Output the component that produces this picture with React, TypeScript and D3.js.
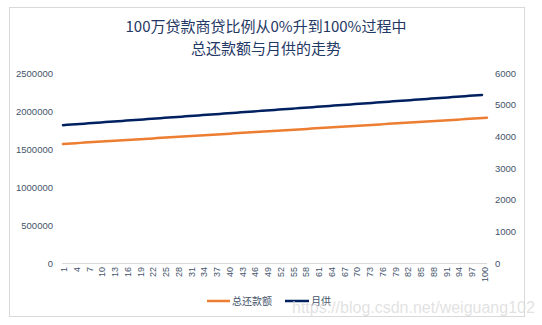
import React from "react";
import * as d3 from "d3";

const categories: number[] = d3.range(1, 101);

const totalRepayment: number[] = [
  1566700, 1570200, 1573700, 1577200, 1580600, 1584100, 1587600, 1591100, 1594500, 1598000,
  1601500, 1605000, 1608400, 1611900, 1615400, 1618800, 1622300, 1625800, 1629300, 1632700,
  1636200, 1639700, 1643200, 1646600, 1650100, 1653600, 1657100, 1660500, 1664000, 1667500,
  1670900, 1674400, 1677900, 1681400, 1684800, 1688300, 1691800, 1695300, 1698700, 1702200,
  1705700, 1709200, 1712600, 1716100, 1719600, 1723000, 1726500, 1730000, 1733500, 1736900,
  1740400, 1743900, 1747400, 1750800, 1754300, 1757800, 1761300, 1764700, 1768200, 1771700,
  1775200, 1778600, 1782100, 1785600, 1789000, 1792500, 1796000, 1799500, 1802900, 1806400,
  1809900, 1813400, 1816800, 1820300, 1823800, 1827300, 1830700, 1834200, 1837700, 1841100,
  1844600, 1848100, 1851600, 1855000, 1858500, 1862000, 1865500, 1868900, 1872400, 1875900,
  1879400, 1882800, 1886300, 1889800, 1893300, 1896700, 1900200, 1903700, 1907100, 1910600,
];

const monthlyPayment: number[] = [
  4352, 4362, 4371, 4381, 4391, 4400, 4410, 4420, 4429, 4439,
  4449, 4458, 4468, 4477, 4487, 4497, 4506, 4516, 4526, 4535,
  4545, 4555, 4564, 4574, 4584, 4593, 4603, 4613, 4622, 4632,
  4642, 4651, 4661, 4670, 4680, 4690, 4699, 4709, 4719, 4728,
  4738, 4748, 4757, 4767, 4777, 4786, 4796, 4806, 4815, 4825,
  4834, 4844, 4854, 4863, 4873, 4883, 4892, 4902, 4912, 4921,
  4931, 4941, 4950, 4960, 4970, 4979, 4989, 4999, 5008, 5018,
  5027, 5037, 5047, 5056, 5066, 5076, 5085, 5095, 5105, 5114,
  5124, 5134, 5143, 5153, 5163, 5172, 5182, 5191, 5201, 5211,
  5220, 5230, 5240, 5249, 5259, 5269, 5278, 5288, 5298, 5307,
];

const leftTicks: number[] = [0, 500000, 1000000, 1500000, 2000000, 2500000];
const rightTicks: number[] = [0, 1000, 2000, 3000, 4000, 5000, 6000];
const xTickLabels: number[] = categories.filter((c) => (c - 1) % 3 === 0);

const titleLines: string[] = ["100万贷款商贷比例从0%升到100%过程中", "总还款额与月供的走势"];
const seriesNames: string[] = ["总还款额", "月供"];

const W = 542;
const H = 325;
const FONT = "'Liberation Sans', Arial, 'Noto Sans CJK SC', sans-serif";
const CJK = "'Noto Sans CJK SC', 'Liberation Sans', sans-serif";
const TEXT = "#44546a";
const ORANGE = "#ed7d31";
const NAVY = "#002060";

export default function App() {
  const plotLeft = 62;
  const plotRight = 487;
  const plotTop = 73;
  const plotBottom = 263;

  const yL = d3.scaleLinear().domain([0, 2500000]).range([plotBottom, plotTop]);
  const yR = d3.scaleLinear().domain([0, 6000]).range([plotBottom, plotTop]);
  const x1 = d3.scalePoint<number>().domain(categories).range([plotLeft + 1, plotRight]);
  const x2 = d3.scalePoint<number>().domain(categories).range([plotLeft + 1, plotRight - 5]);

  const line1 = d3
    .line<number>()
    .x((_, i) => x1(categories[i]) as number)
    .y((d) => yL(d));
  const line2 = d3
    .line<number>()
    .x((_, i) => x2(categories[i]) as number)
    .y((d) => yR(d));

  const band = (plotRight - plotLeft) / categories.length;
  const xLabel = (c: number) => plotLeft + band * (categories.indexOf(c) + 0.5);

  return (
    <svg
      width={W}
      height={H}
      style={{ position: "absolute", left: 0, top: 0, background: "#fff" }}
    >
      <rect x={0} y={0} width={W} height={H} fill="#fff" />
      <rect x={9.5} y={7.5} width={515} height={309} fill="#fff" stroke="#d9d9d9" strokeWidth={1} />

      {titleLines.map((t, i) => (
        <text
          key={t}
          x={266}
          y={32 + i * 22}
          textAnchor="middle"
          fontFamily={CJK}
          fontSize={15}
          fill="#1f3864"
        >
          {t}
        </text>
      ))}

      {leftTicks.map((v) => (
        <text
          key={"l" + v}
          x={53}
          y={yL(v) + 3.5}
          textAnchor="end"
          fontFamily={FONT}
          fontSize={9.5}
          fill={TEXT}
        >
          {v}
        </text>
      ))}
      {rightTicks.map((v) => (
        <text
          key={"r" + v}
          x={495}
          y={yR(v) + 3.5}
          textAnchor="start"
          fontFamily={FONT}
          fontSize={9.5}
          fill={TEXT}
        >
          {v}
        </text>
      ))}

      <line x1={plotLeft} x2={plotRight} y1={plotBottom + 0.5} y2={plotBottom + 0.5} stroke="#d9d9d9" strokeWidth={1} />

      {xTickLabels.map((c) => (
        <text
          key={"x" + c}
          transform={`translate(${xLabel(c) + 3},${plotBottom + 4}) rotate(-90)`}
          textAnchor="end"
          fontFamily={FONT}
          fontSize={9}
          fill={TEXT}
        >
          {c}
        </text>
      ))}

      <path d={line1(totalRepayment) || ""} fill="none" stroke={ORANGE} strokeWidth={2.5} strokeLinecap="round" />
      <path d={line2(monthlyPayment) || ""} fill="none" stroke={NAVY} strokeWidth={2.5} strokeLinecap="round" />

      <line x1={207} x2={230} y1={301} y2={301} stroke={ORANGE} strokeWidth={2.5} />
      <text x={232} y={305} fontFamily={CJK} fontSize={10} fill={TEXT}>
        {seriesNames[0]}
      </text>
      <line x1={285} x2={309} y1={301} y2={301} stroke={NAVY} strokeWidth={2.5} />
      <text x={311} y={305} fontFamily={CJK} fontSize={10} fill={TEXT}>
        {seriesNames[1]}
      </text>

      <text
        x={292}
        y={313}
        fontFamily={FONT}
        fontSize={16}
        fill="#d8d8d8"
        fillOpacity={0.75}
      >
        https://blog.csdn.net/weiguang102
      </text>
    </svg>
  );
}
